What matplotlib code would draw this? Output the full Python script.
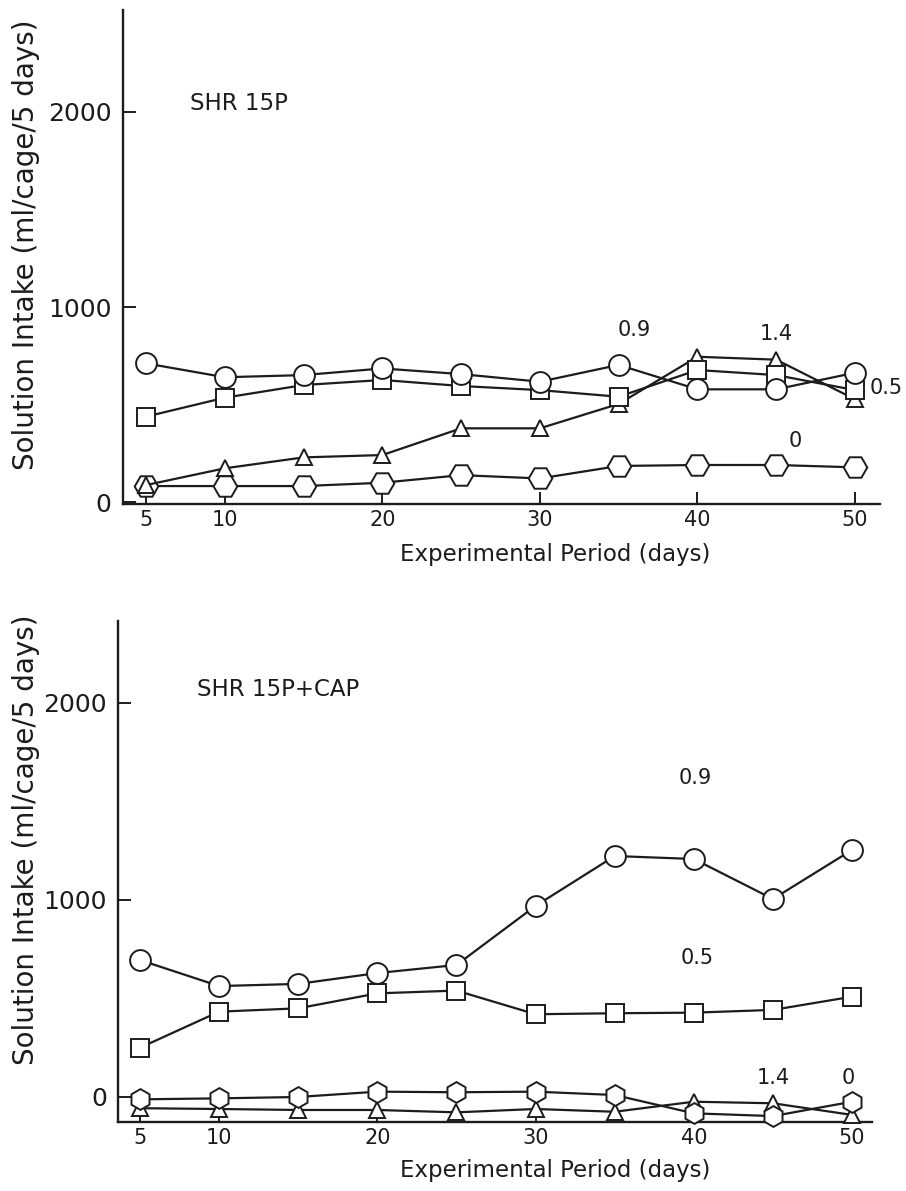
import matplotlib
matplotlib.use("Agg")
import matplotlib.pyplot as plt

plt.rcParams['font.family'] = ['DejaVu Sans']

days = [5, 10, 15, 20, 25, 30, 35, 40, 45, 50]

# SHR 15P, intake per concentration (ml/cage/5 days)
shr_09 = [711, 640, 651, 685, 656, 617, 703, 578, 578, 663]
shr_05 = [438, 535, 600, 626, 595, 574, 540, 677, 651, 574]
shr_14 = [87, 173, 229, 241, 378, 378, 503, 745, 730, 527]
shr_00 = [82, 82, 82, 99, 138, 121, 185, 190, 190, 178]

# SHR 15P+CAP
cap_09 = [695, 563, 574, 629, 670, 970, 1223, 1208, 1005, 1254]
cap_05 = [250, 433, 450, 526, 540, 420, 425, 428, 442, 509]
cap_14 = [-57, -61, -66, -66, -78, -61, -75, -24, -32, -91]
cap_00 = [-12, -7, 0, 27, 24, 27, 10, -83, -97, -24]

xticks = [5, 10, 20, 30, 40, 50]
yticks = [0, 1000, 2000]

INK = '#1c1c1c'
W, H = 906, 1191
fig = plt.figure(figsize=(W / 100, H / 100), dpi=100)


def frac(left, top, right, bottom):
    return [left / W, 1 - bottom / H, (right - left) / W, (bottom - top) / H]


def style(ax, xlim, ylim):
    ax.set_xlim(*xlim)
    ax.set_ylim(*ylim)
    for s in ('top', 'right'):
        ax.spines[s].set_visible(False)
    for s in ('left', 'bottom'):
        ax.spines[s].set_linewidth(1.7)
        ax.spines[s].set_color(INK)
    ax.set_xticks(xticks)
    ax.set_yticks(yticks)
    ax.tick_params(direction='in', length=9, width=1.4, colors=INK)
    ax.tick_params(axis='y', pad=8, labelsize=18)
    ax.tick_params(axis='x', pad=4, labelsize=15)
    ax.patch.set_alpha(0)


def series(ax, y, marker, ms, z):
    ax.plot(days, y, color=INK, lw=1.6, marker=marker, ms=ms,
            mfc='white', mec=INK, mew=1.4, zorder=z, clip_on=False)


def note(ax, x, y, s):
    ax.text(x, y, s, fontsize=15, ha='center', va='center', color=INK)


# top panel
ax1 = fig.add_axes(frac(122.7, 10, 880, 504))
style(ax1, (3.52, 51.59), (-10, 2523))
series(ax1, shr_00, 'H', 17, 3)
series(ax1, shr_14, '^', 12, 4)
series(ax1, shr_05, 's', 13, 5)
series(ax1, shr_09, 'o', 15, 6)
ax1.text(7.8, 2046, 'SHR 15P', fontsize=16.5, va='center', color=INK)
note(ax1, 36.0, 882, '0.9')
note(ax1, 45.0, 862, '1.4')
note(ax1, 52.0, 585, '0.5')
note(ax1, 46.2, 313, '0')

# bottom panel
ax2 = fig.add_axes(frac(118, 621, 872, 1122))
style(ax2, (3.61, 51.26), (-127, 2416))
series(ax2, cap_14, '^', 12, 3)
series(ax2, cap_00, 'h', 15, 4)
series(ax2, cap_05, 's', 13, 5)
series(ax2, cap_09, 'o', 15, 6)
ax2.text(8.6, 2066, 'SHR 15P+CAP', fontsize=16.5, va='center', color=INK)
note(ax2, 40.1, 1619, '0.9')
note(ax2, 40.2, 706, '0.5')
note(ax2, 45.0, 96, '1.4')
note(ax2, 49.75, 96, '0')

xlab = 'Experimental Period (days)'
ylab = 'Solution Intake (ml/cage/5 days)'
for yy in (555, 1170):
    fig.text(555 / W, 1 - yy / H, xlab, fontsize=16.5, ha='center',
             va='center', color=INK)
for yy in (245, 840):
    fig.text(26 / W, 1 - yy / H, ylab, fontsize=20, rotation=90,
             ha='center', va='center', color=INK)

fig.savefig('out.png', dpi=100, facecolor='white')
